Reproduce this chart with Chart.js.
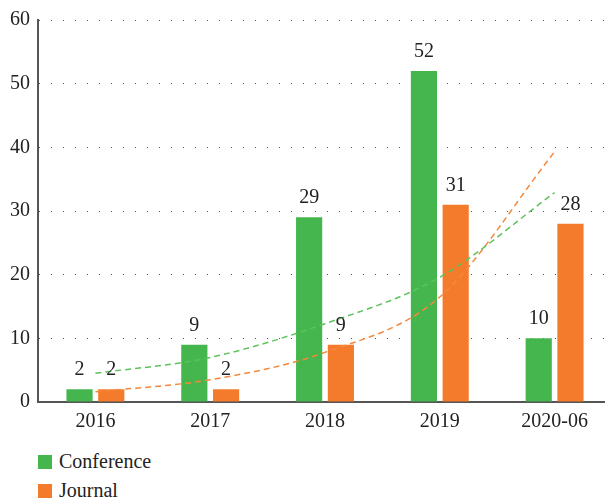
<!DOCTYPE html>
<html>
<head>
<meta charset="utf-8">
<script src="https://cdn.jsdelivr.net/npm/chart.js@4"></script>
<style>
  html, body { margin: 0; padding: 0; background: #fff; overflow: hidden; }
  #wrap { position: relative; width: 612px; height: 442px; }
  .legend { position: absolute; left: 38px; font-family: "Liberation Serif", serif; font-size: 20px; color: #222; }
  .legend div { display: flex; align-items: center; height: 29px; }
  .legend span.box { width: 14px; height: 14px; margin-right: 7px; display: inline-block; }
</style>
</head>
<body>
<div id="wrap"><canvas id="chart"></canvas></div>
<div class="legend" style="top: 447px;">
  <div><span class="box" style="background:#45b64e"></span>Conference</div>
  <div><span class="box" style="background:#f37b2b"></span>Journal</div>
</div>
<script>
const years = ["2016", "2017", "2018", "2019", "2020-06"]
const conference = [2, 9, 29, 52, 10]
const journal = [2, 2, 9, 31, 28]
// dashed trend curves at each category
const conferenceTrend = [4.5, 7.0, 12.3, 19.6, 32.9]
const journalTrend = [1.6, 3.5, 7.8, 16.5, 39.3]
const yTicks = [0, 10, 20, 30, 40, 50, 60]

const green = "#45b64e"
const orange = "#f37b2b"

const valueLabels = {
  id: "valueLabels",
  afterDatasetsDraw(chart) {
    const ctx = chart.ctx
    ctx.save()
    ctx.font = "20px 'Liberation Serif', serif"
    ctx.fillStyle = "#222"
    ctx.textAlign = "center"
    ctx.textBaseline = "alphabetic"
    chart.data.datasets.forEach((ds, i) => {
      if (ds.type === "line") return
      chart.getDatasetMeta(i).data.forEach((bar, j) => {
        ctx.fillText(ds.data[j], bar.x, bar.y - 14)
      })
    })
    ctx.restore()
  },
}

new Chart(document.getElementById("chart"), {
  type: "bar",
  data: {
    labels: years,
    datasets: [
      {
        type: "line",
        data: conferenceTrend,
        borderColor: "#5cc25a",
        borderWidth: 1.5,
        borderDash: [6, 4],
        pointRadius: 0,
        tension: 0.4,
        cubicInterpolationMode: "monotone",
        order: 0,
      },
      {
        type: "line",
        data: journalTrend,
        borderColor: "#f4883b",
        borderWidth: 1.5,
        borderDash: [6, 4],
        pointRadius: 0,
        tension: 0.4,
        cubicInterpolationMode: "monotone",
        order: 0,
      },
      {
        label: "Conference",
        data: conference,
        backgroundColor: green,
        categoryPercentage: 0.553,
        barPercentage: 0.825,
        order: 1,
      },
      {
        label: "Journal",
        data: journal,
        backgroundColor: orange,
        categoryPercentage: 0.553,
        barPercentage: 0.825,
        order: 1,
      },
    ],
  },
  options: {
    responsive: true,
    maintainAspectRatio: false,
    animation: false,
    layout: { padding: { top: 8, left: 2, right: 0, bottom: 0 } },
    plugins: {
      legend: { display: false },
      tooltip: { enabled: false },
    },
    scales: {
      x: {
        grid: { display: false, drawTicks: false },
        border: { display: true, color: "#555", width: 2 },
        ticks: {
          color: "#222",
          padding: 8,
          font: { family: "'Liberation Serif', serif", size: 20 },
        },
      },
      y: {
        min: 0,
        max: 60,
        afterBuildTicks: (axis) => {
          axis.ticks = yTicks.map((v) => ({ value: v }))
        },
        grid: { color: "#555", lineWidth: 1, drawTicks: false },
        border: { display: true, color: "#555", width: 2, dash: [1, 11] },
        ticks: {
          color: "#222",
          padding: 8,
          font: { family: "'Liberation Serif', serif", size: 20 },
        },
      },
    },
  },
  plugins: [valueLabels],
})
</script>
</body>
</html>
